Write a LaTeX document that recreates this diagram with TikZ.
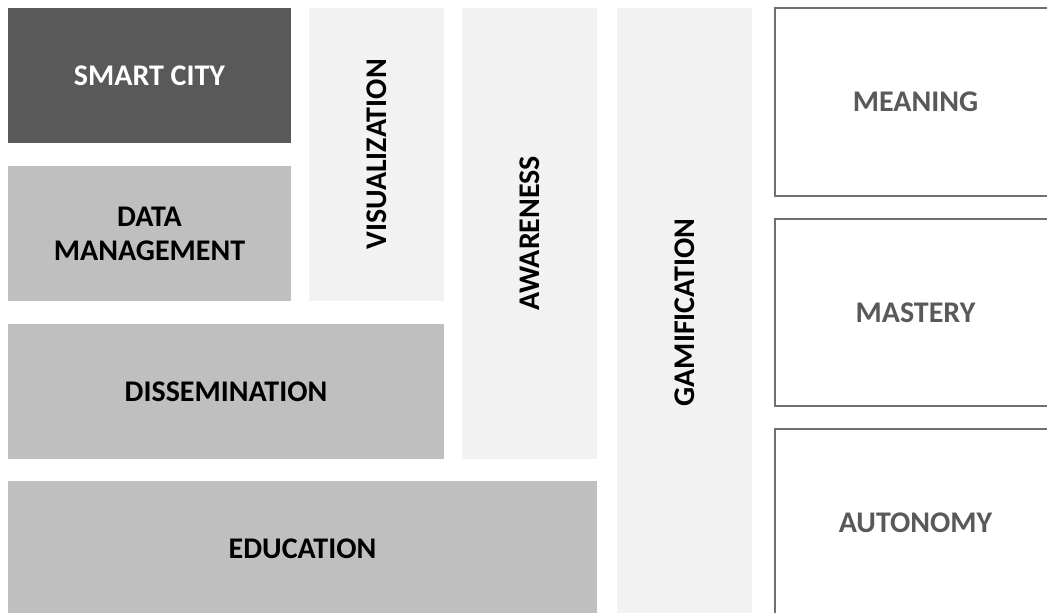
\documentclass[tikz,border=0pt]{standalone}
\usepackage{fontspec}
\setmainfont{Carlito}
\definecolor{darkfill}{HTML}{595959}
\definecolor{midfill}{HTML}{BFBFBF}
\definecolor{lightfill}{HTML}{F2F2F2}
\definecolor{rimgray}{HTML}{707070}
\definecolor{txtgray}{HTML}{595959}
\begin{document}
\begin{tikzpicture}[x=1pt,y=-1pt,
  basebox/.style={rectangle, inner sep=0pt, align=center,
    font=\fontsize{30}{34}\selectfont\bfseries},
  darkbox/.style={basebox, fill=darkfill, text=white},
  midbox/.style={basebox, fill=midfill, text=black},
  lightbox/.style={basebox, fill=lightfill, text=black},
  whitebox/.style={basebox, fill=white, draw=rimgray, line width=2pt, text=txtgray}]
\useasboundingbox (0,0) rectangle (1047,613);
\clip (0,0) rectangle (1047,613);
\node[darkbox, minimum width=283pt, minimum height=135pt] (smart) at (149.5,75.5) {SMART CITY};
\node[midbox, minimum width=283pt, minimum height=135pt] (data) at (149.5,233.5) {DATA\\MANAGEMENT};
\node[lightbox, rotate=90, minimum width=293pt, minimum height=135pt] (vis) at (376.5,154.5) {VISUALIZATION};
\node[midbox, minimum width=436pt, minimum height=135pt] (diss) at (226,391.5) {DISSEMINATION};
\node[lightbox, rotate=90, minimum width=451pt, minimum height=135pt] (aware) at (529.5,233.5) {AWARENESS};
\node[midbox, minimum width=589pt, minimum height=136pt] (edu) at (302.5,549) {EDUCATION};
\node[lightbox, rotate=90, minimum width=609pt, minimum height=135pt] (gam) at (684.5,312.5) {GAMIFICATION};
\node[whitebox, minimum width=281pt, minimum height=188pt] (meaning) at (915.5,102) {MEANING};
\node[whitebox, minimum width=281pt, minimum height=187pt] (mastery) at (915.5,312.5) {MASTERY};
\node[whitebox, minimum width=281pt, minimum height=188pt] (autonomy) at (915.5,523) {AUTONOMY};
\end{tikzpicture}
\end{document}
